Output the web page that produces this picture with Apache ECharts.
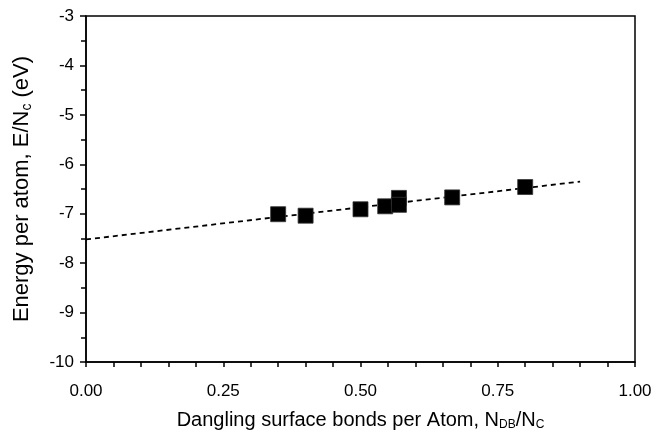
<!DOCTYPE html>
<html>
<head>
<meta charset="utf-8">
<script src="https://cdn.jsdelivr.net/npm/echarts@6/dist/echarts.min.js"></script>
<style>
  html, body { margin: 0; padding: 0; background: #fff; }
  #chart { width: 667px; height: 432px; }
</style>
</head>
<body>
<div id="chart"></div>
<script>
// dangling bonds per atom (N_DB/N_C) and energy per atom (eV)
const dbRatio = [0.35, 0.40, 0.50, 0.545, 0.57, 0.57, 0.667, 0.80]
const energy = [-7.01, -7.04, -6.91, -6.85, -6.68, -6.82, -6.67, -6.46]
// linear fit, end points
const fitX = [0, 0.9]
const fitY = [-7.52, -6.35]
const xTicks = ['0.00', '0.25', '0.50', '0.75', '1.00']

const font = 'Liberation Sans, Arial, sans-serif'
const chart = echarts.init(document.getElementById('chart'))

chart.setOption({
  animation: false,
  grid: {
    left: 86, right: 32, top: 16, bottom: 70,
    outerBoundsMode: 'none',
    containLabel: false,
    show: true, borderColor: '#000', borderWidth: 1.5
  },
  xAxis: {
    type: 'value',
    min: 0, max: 1, interval: 0.25,
    axisLine: { lineStyle: { color: '#000', width: 1.5 } },
    axisTick: { length: 5, lineStyle: { color: '#000', width: 1.5 } },
    minorTick: { show: true, splitNumber: 5, length: 5, lineStyle: { color: '#000', width: 1.5 } },
    splitLine: { show: false },
    axisLabel: {
      margin: 21, color: '#000', fontSize: 17, fontFamily: font,
      formatter: (v) => xTicks[Math.round(v * 4)]
    },
    name: 'Dangling surface bonds per Atom, N{sub|DB}/N{sub|C}',
    nameLocation: 'middle',
    nameGap: 47,
    nameTextStyle: {
      color: '#000', fontSize: 20, fontFamily: font, lineHeight: 22,
      rich: {
        sub: { fontSize: 12, fontFamily: font, color: '#000', verticalAlign: 'bottom', lineHeight: 14, padding: [8, 0, 0, 0] }
      }
    }
  },
  yAxis: {
    type: 'value',
    min: -10, max: -3, interval: 1,
    axisLine: { lineStyle: { color: '#000', width: 1.5 } },
    axisTick: { length: 6, lineStyle: { color: '#000', width: 1.5 } },
    minorTick: { show: true, splitNumber: 2, length: 5, lineStyle: { color: '#000', width: 1.5 } },
    splitLine: { show: false },
    axisLabel: { margin: 12, color: '#000', fontSize: 17, fontFamily: font },
    name: 'Energy per atom, E/N{sub|c} (eV)',
    nameLocation: 'middle',
    nameGap: 52,
    nameTextStyle: {
      color: '#000', fontSize: 22, fontFamily: font, lineHeight: 24,
      rich: {
        sub: { fontSize: 14, fontFamily: font, color: '#000', verticalAlign: 'bottom', lineHeight: 15, padding: [6, 0, 0, 0] }
      }
    }
  },
  series: [
    {
      type: 'line',
      data: fitX.map((x, i) => [x, fitY[i]]),
      showSymbol: false,
      z: 1,
      lineStyle: { color: '#000', width: 1.8, type: [5, 4] }
    },
    {
      type: 'scatter',
      data: dbRatio.map((x, i) => [x, energy[i]]),
      symbol: 'rect',
      symbolSize: 15,
      z: 2,
      itemStyle: { color: '#000', opacity: 1, borderColor: '#333', borderWidth: 0.8 }
    }
  ]
})
</script>
</body>
</html>
